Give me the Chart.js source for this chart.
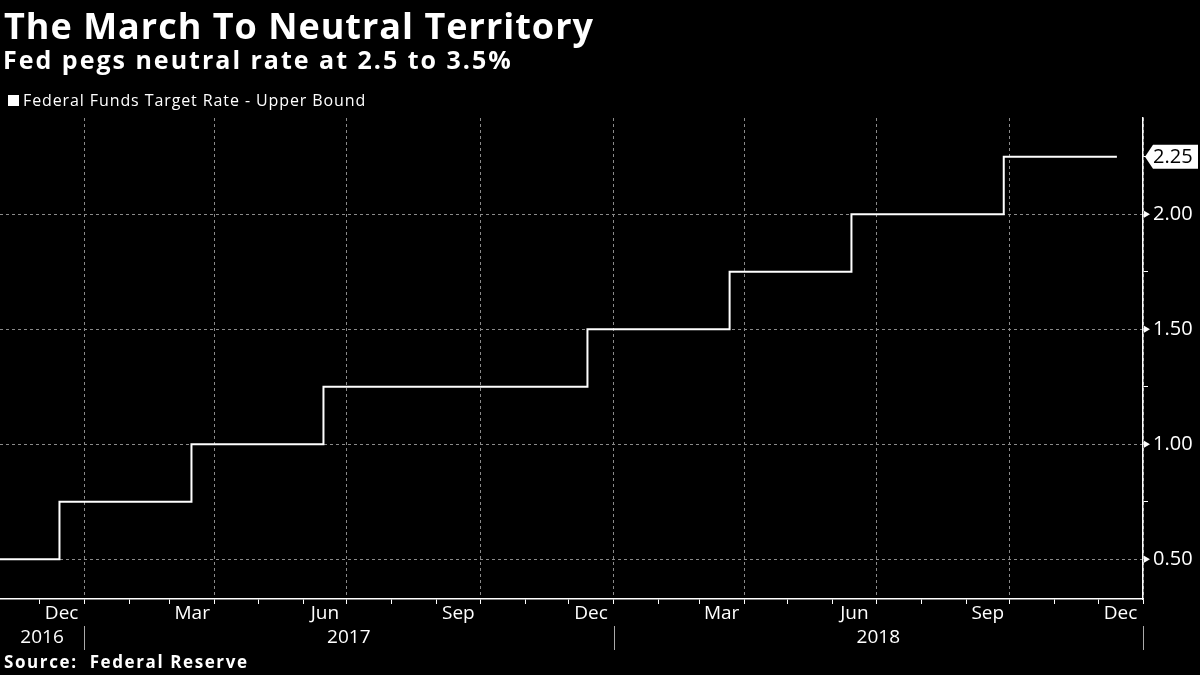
<!DOCTYPE html>
<html>
<head>
<meta charset="utf-8">
<script src="https://cdn.jsdelivr.net/npm/chart.js@4.4.0/dist/chart.umd.min.js"></script>
<style>
    html, body { margin: 0; padding: 0; background: #000; }
    #wrap { position: relative; width: 1200px; height: 675px; background: #000; overflow: hidden;
            font-family: 'Open Sans', sans-serif; color: #fff; }
    #chart { position: absolute; left: 0; top: 0; }
    .title { position: absolute; left: 4px; top: 1px; font-size: 36px; font-weight: 700; letter-spacing: 1px; white-space: nowrap; }
    .subtitle { position: absolute; left: 3px; top: 42px; font-size: 25px; font-weight: 700; letter-spacing: 2px; white-space: nowrap; }
    .legend { position: absolute; left: 8px; top: 89px; font-size: 16px; letter-spacing: 0.9px; white-space: nowrap; }
    .legend .box { display: inline-block; width: 11px; height: 11px; background: #fff; margin-right: 4px; }
    .source { position: absolute; left: 4px; top: 650px; font-size: 17px; font-weight: 700; letter-spacing: 1.6px; white-space: nowrap; }
</style>
</head>
<body>
<div id="wrap">
    <canvas id="chart" width="1200" height="675"></canvas>
    <div class="title">The March To Neutral Territory</div>
    <div class="subtitle">Fed pegs neutral rate at 2.5 to 3.5%</div>
    <div class="legend"><span class="box"></span>Federal Funds Target Rate - Upper Bound</div>
    <div class="source">Source:&nbsp; Federal Reserve</div>
</div>
<script>
// Données : taux directeur (borne haute) à chaque changement
const stepDates = ['2016-11-04', '2016-12-15', '2017-03-16', '2017-06-15', '2017-12-14',
                   '2018-03-22', '2018-06-14', '2018-09-27', '2018-12-14'];
const upperBound = [0.50, 0.75, 1.00, 1.25, 1.50, 1.75, 2.00, 2.25, 2.25];

// Axe Y : graduations tous les 0,25, libellés tous les 0,50
const yTicks = [0.50, 0.75, 1.00, 1.25, 1.50, 1.75, 2.00, 2.25];

// Axe X : libellés de mois (année, mois 0-11) et années
const monthLabels = [
    [2016, 11, 'Dec'], [2017, 2, 'Mar'], [2017, 5, 'Jun'], [2017, 8, 'Sep'], [2017, 11, 'Dec'],
    [2018, 2, 'Mar'], [2018, 5, 'Jun'], [2018, 8, 'Sep'], [2018, 11, 'Dec']
];
const yearLabels = [2016, 2017, 2018];

const xMin = Date.UTC(2016, 10, 4);
const xMax = Date.UTC(2019, 0, 1);
const lastValue = upperBound[upperBound.length - 1];

const FONT = "'Open Sans', sans-serif";

// Débuts de mois pour les petites graduations
const monthStarts = [];
for (let y = 2016; y <= 2019; y++) {
    for (let m = 0; m < 12; m++) {
        const t = Date.UTC(y, m, 1);
        if (t >= xMin && t <= xMax) monthStarts.push(t);
    }
}

// Libellés de l'axe X, marqueurs de l'axe Y et étiquette de la dernière valeur
const axisLabelsPlugin = {
    id: 'axisLabels',
    afterDraw(chart) {
        const ctx = chart.ctx;
        const x = chart.scales.x;
        const y = chart.scales.y;
        const area = chart.chartArea;
        ctx.save();
        ctx.fillStyle = '#fff';
        ctx.font = '19px ' + FONT;
        ctx.textAlign = 'center';
        ctx.textBaseline = 'middle';

        monthLabels.forEach(([yr, m, label]) => {
            const start = Date.UTC(yr, m, 1);
            const end = Date.UTC(yr, m + 1, 1);
            ctx.fillText(label, x.getPixelForValue((start + end) / 2), area.bottom + 15);
        });

        yearLabels.forEach(yr => {
            const start = Math.max(Date.UTC(yr, 0, 1), xMin);
            const end = Math.min(Date.UTC(yr + 1, 0, 1), xMax);
            ctx.fillText(String(yr), x.getPixelForValue((start + end) / 2), area.bottom + 39);
            // séparateur d'année
            const sep = Math.round(x.getPixelForValue(end)) + 0.5;
            ctx.strokeStyle = '#aaa';
            ctx.lineWidth = 1;
            ctx.beginPath();
            ctx.moveTo(sep, area.bottom + 27);
            ctx.lineTo(sep, area.bottom + 51);
            ctx.stroke();
        });

        // petits triangles sur les graduations principales
        yTicks.forEach(v => {
            if (Math.abs(v % 0.5) > 1e-9 || v === lastValue) return;
            const py = y.getPixelForValue(v);
            ctx.beginPath();
            ctx.moveTo(area.right + 1, py - 3.5);
            ctx.lineTo(area.right + 7, py);
            ctx.lineTo(area.right + 1, py + 3.5);
            ctx.closePath();
            ctx.fill();
        });

        // étiquette de la dernière valeur
        const py = y.getPixelForValue(lastValue);
        const left = area.right + 2;
        ctx.beginPath();
        ctx.moveTo(left, py);
        ctx.lineTo(left + 8, py - 12);
        ctx.lineTo(1198, py - 12);
        ctx.lineTo(1198, py + 12);
        ctx.lineTo(left + 8, py + 12);
        ctx.closePath();
        ctx.fill();
        ctx.fillStyle = '#000';
        ctx.font = '20px ' + FONT;
        ctx.textAlign = 'left';
        ctx.fillText(lastValue.toFixed(2), area.right + 10, py + 1);
        ctx.restore();
    }
};

const isMajor = v => Math.abs(v % 0.5) < 1e-9;

new Chart(document.getElementById('chart'), {
    type: 'line',
    data: {
        datasets: [{
            label: 'Federal Funds Target Rate - Upper Bound',
            data: stepDates.map((d, i) => ({ x: Date.parse(d), y: upperBound[i] })),
            borderColor: '#fff',
            borderWidth: 2,
            pointRadius: 0,
            stepped: true,
            fill: false
        }]
    },
    options: {
        responsive: false,
        animation: false,
        layout: { padding: { top: 118, left: 0, right: 0, bottom: 0 } },
        plugins: {
            legend: { display: false },
            title: { display: false },
            tooltip: { enabled: false }
        },
        scales: {
            x: {
                type: 'linear',
                min: xMin,
                max: xMax,
                afterBuildTicks: scale => {
                    scale.ticks = monthStarts.map(v => ({ value: v }));
                },
                afterFit: scale => { scale.height = 76; },
                ticks: { display: false },
                border: { display: true, color: '#fff', width: 1.5, dash: [3, 3] },
                grid: {
                    color: ctx => {
                        if (!ctx.tick) return 'rgba(0,0,0,0)';
                        const m = new Date(ctx.tick.value).getUTCMonth();
                        return m % 3 === 0 ? '#8a8a8a' : 'rgba(0,0,0,0)';
                    },
                    lineWidth: 1,
                    drawTicks: true,
                    tickLength: 5,
                    tickColor: '#fff',
                    tickWidth: 1
                }
            },
            y: {
                position: 'right',
                min: 0.327,
                max: 2.418,
                afterBuildTicks: scale => {
                    scale.ticks = yTicks.map(v => ({ value: v }));
                },
                afterFit: scale => { scale.width = 57; },
                ticks: {
                    color: '#fff',
                    padding: 5,
                    font: { size: 20, family: FONT },
                    callback: v => (isMajor(v) && v !== lastValue ? v.toFixed(2) : '')
                },
                border: { display: true, color: '#fff', width: 1.5, dash: [3, 3] },
                grid: {
                    color: ctx => (ctx.tick && isMajor(ctx.tick.value) ? '#8a8a8a' : 'rgba(0,0,0,0)'),
                    lineWidth: 1,
                    drawTicks: true,
                    tickLength: 5,
                    tickColor: ctx => (ctx.tick && !isMajor(ctx.tick.value) ? '#fff' : 'rgba(0,0,0,0)'),
                    tickWidth: 1
                }
            }
        }
    },
    plugins: [axisLabelsPlugin]
});
</script>
</body>
</html>
